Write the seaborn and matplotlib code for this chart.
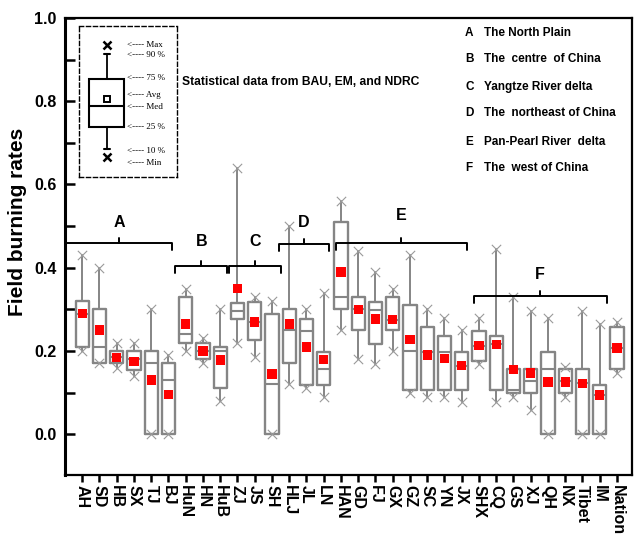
import matplotlib
matplotlib.use("Agg")
import matplotlib.pyplot as plt
import seaborn as sns
import pandas as pd
from matplotlib.patches import Rectangle
from matplotlib.ticker import MultipleLocator, FormatStrFormatter

# Provinces and box statistics
regions = ["AH", "SD", "HB", "SX", "TJ", "BJ", "HuN", "HN", "HuB", "ZJ", "JS", "SH",
           "HLJ", "JL", "LN", "HAN", "GD", "FJ", "GX", "GZ", "SC", "YN", "JX", "SHX",
           "CQ", "GS", "XJ", "QH", "NX", "Tibet", "IM", "Nation"]
max_vals = [0.43, 0.40, 0.22, 0.22, 0.30, 0.19, 0.35, 0.23, 0.30, 0.64, 0.33, 0.32,
            0.50, 0.30, 0.34, 0.56, 0.44, 0.39, 0.35, 0.43, 0.30, 0.28, 0.25, 0.28,
            0.445, 0.33, 0.296, 0.28, 0.161, 0.296, 0.265, 0.269]
q3_vals = [0.32, 0.30, 0.20, 0.20, 0.20, 0.17, 0.33, 0.22, 0.21, 0.315, 0.317, 0.29,
           0.30, 0.277, 0.197, 0.51, 0.33, 0.317, 0.33, 0.31, 0.257, 0.237, 0.197, 0.248,
           0.237, 0.157, 0.157, 0.197, 0.157, 0.157, 0.118, 0.257]
med_vals = [0.29, 0.21, 0.185, 0.18, 0.17, 0.13, 0.24, 0.20, 0.20, 0.295, 0.27, 0.12,
            0.25, 0.248, 0.157, 0.33, 0.30, 0.298, 0.275, 0.20, 0.197, 0.197, 0.165, 0.213,
            0.217, 0.107, 0.127, 0.157, 0.127, 0.122, 0.094, 0.207]
q1_vals = [0.21, 0.17, 0.17, 0.155, 0.0, 0.0, 0.22, 0.18, 0.11, 0.277, 0.227, 0.0,
           0.17, 0.118, 0.118, 0.30, 0.25, 0.217, 0.25, 0.107, 0.107, 0.107, 0.107, 0.177,
           0.107, 0.098, 0.098, 0.0, 0.098, 0.0, 0.0, 0.157]
min_vals = [0.20, 0.17, 0.16, 0.14, 0.0, 0.0, 0.20, 0.17, 0.08, 0.22, 0.185, 0.0,
            0.12, 0.11, 0.09, 0.25, 0.18, 0.168, 0.20, 0.10, 0.09, 0.09, 0.077, 0.168,
            0.077, 0.089, 0.058, 0.0, 0.089, 0.0, 0.0, 0.147]
mean_vals = [0.29, 0.25, 0.185, 0.175, 0.13, 0.095, 0.265, 0.20, 0.178, 0.35, 0.27, 0.145,
             0.265, 0.21, 0.18, 0.39, 0.30, 0.277, 0.275, 0.228, 0.19, 0.182, 0.165, 0.213,
             0.215, 0.155, 0.147, 0.125, 0.125, 0.122, 0.094, 0.207]

group_letters = ["A", "B", "C", "D", "E", "F"]
group_names = ["The North Plain", "The  centre  of China", "Yangtze River delta",
               "The  northeast of China", "Pan-Pearl River  delta", "The  west of China"]

df = pd.DataFrame({"region": regions, "max": max_vals, "q3": q3_vals, "med": med_vals,
                   "q1": q1_vals, "min": min_vals, "mean": mean_vals})
df["pos"] = range(len(df))

sns.set_style("ticks")
plt.rcParams["font.family"] = ["Liberation Sans", "DejaVu Sans"]
for k in ["text.color", "axes.labelcolor", "xtick.color", "ytick.color", "axes.edgecolor"]:
    plt.rcParams[k] = "black"

fig = plt.figure(figsize=(6.35, 5.4), dpi=100)
ax = fig.add_axes([65 / 635, 1 - 475 / 540, 567 / 635, 457 / 540])

gray = "#858585"
stats = [dict(med=r.med, q1=r.q1, q3=r.q3, whislo=r["min"], whishi=r["max"], fliers=[])
         for _, r in df.iterrows()]
ax.bxp(stats, positions=df["pos"], widths=0.78, showcaps=False, showfliers=False,
       boxprops=dict(color=gray, linewidth=1.7),
       whiskerprops=dict(color=gray, linewidth=1.4),
       medianprops=dict(color=gray, linewidth=1.5))

ends = pd.concat([df[["pos", "max"]].rename(columns={"max": "v"}),
                  df[["pos", "min"]].rename(columns={"min": "v"})])
sns.scatterplot(data=ends, x="pos", y="v", marker="x", s=45, color="#9a9a9a",
                linewidth=0.8, ax=ax, zorder=4)
sns.scatterplot(data=df, x="pos", y="mean", marker="s", s=46, color="#ff0000",
                edgecolor="none", ax=ax, zorder=5)

# region brackets: (left, right, height, label height)
brackets = [(-0.95, 5.2, 0.46, 0.508), (5.4, 8.4, 0.405, 0.463), (8.5, 11.5, 0.405, 0.463),
            (11.4, 14.3, 0.457, 0.508), (14.7, 22.3, 0.46, 0.525), (22.7, 30.4, 0.333, 0.384)]
for letter, (x0, x1, yb, yl) in zip(group_letters, brackets):
    xm = (x0 + x1) / 2
    ax.plot([x0, x0, x1, x1], [yb - 0.017, yb, yb, yb - 0.017], color="black", lw=1.4, zorder=6)
    ax.plot([xm, xm], [yb, yb + 0.011], color="black", lw=1.4, zorder=6)
    ax.text(xm, yl, letter, ha="center", va="center", fontsize=11.5, fontweight="bold")

ax.set_xlim(-1, 31.87)
ax.set_ylim(-0.098, 1.0)
ax.yaxis.set_major_locator(MultipleLocator(0.2))
ax.yaxis.set_minor_locator(MultipleLocator(0.1))
ax.yaxis.set_major_formatter(FormatStrFormatter("%.1f"))
ax.set_xticks(df["pos"])
ax.set_xticklabels(regions, rotation=-90, fontsize=11.5, fontweight="bold")
for lab in ax.get_yticklabels():
    lab.set_fontweight("bold")
ax.tick_params(axis="y", which="both", direction="in", length=7, width=1.8,
               labelsize=11.5, pad=6, right=False)
ax.tick_params(axis="x", direction="out", length=5, width=1.8, pad=2)
for sp in ax.spines.values():
    sp.set_visible(True)
    sp.set_linewidth(1.6)
ax.spines["left"].set_linewidth(2.2)
ax.set_xlabel("")
ax.set_ylabel("")
fig.text(18 / 635, 1 - 222 / 540, "Field burning rates", rotation=90, ha="center",
         va="center", fontsize=15, fontweight="bold")

# key explaining the box symbols
key = fig.add_axes([79 / 635, 1 - 177 / 540, 98 / 635, 151 / 540])
key.set_xlim(79, 177)
key.set_ylim(177, 26)
key.set_xticks([])
key.set_yticks([])
for sp in key.spines.values():
    sp.set_linestyle((0, (3, 2)))
    sp.set_linewidth(1.0)
key.add_patch(Rectangle((89, 79), 35, 48, fill=False, edgecolor="black", lw=1.5))
key.plot([89, 124], [106, 106], color="black", lw=1.5)
key.plot([107, 107], [54, 79], color="black", lw=1.3)
key.plot([107, 107], [127, 149], color="black", lw=1.3)
key.plot([104, 110], [54, 54], color="black", lw=1.5)
key.plot([104, 110], [149, 149], color="black", lw=1.5)
key.plot([107, 107], [45, 157], ls="none", marker="x", ms=6, mew=1.8, color="black")
key.plot([107], [99], ls="none", marker="s", ms=5, mfc="white", mec="black", mew=1.4)
key_labels = ["Max", "90 %", "75 %", "Avg", "Med", "25 %", "10 %", "Min"]
key_rows = [45, 55, 78, 95, 107, 127, 151, 163]
for lab, yy in zip(key_labels, key_rows):
    key.text(127, yy, "<---- " + lab, ha="left", va="center", fontsize=6.5,
             family=["Liberation Serif", "DejaVu Serif"])

fig.text(182 / 635, 1 - 82 / 540, "Statistical data from BAU, EM, and NDRC",
         ha="left", va="center", fontsize=8.7, fontweight="bold")

legend_rows = [33, 59, 87, 113, 142, 168]
for letter, name, yy in zip(group_letters, group_names, legend_rows):
    fig.text(465 / 635, 1 - yy / 540, letter, ha="left", va="center", fontsize=8.5,
             fontweight="bold")
    fig.text(484 / 635, 1 - yy / 540, name, ha="left", va="center", fontsize=8.5,
             fontweight="bold")

fig.savefig("out.png", dpi=100)
